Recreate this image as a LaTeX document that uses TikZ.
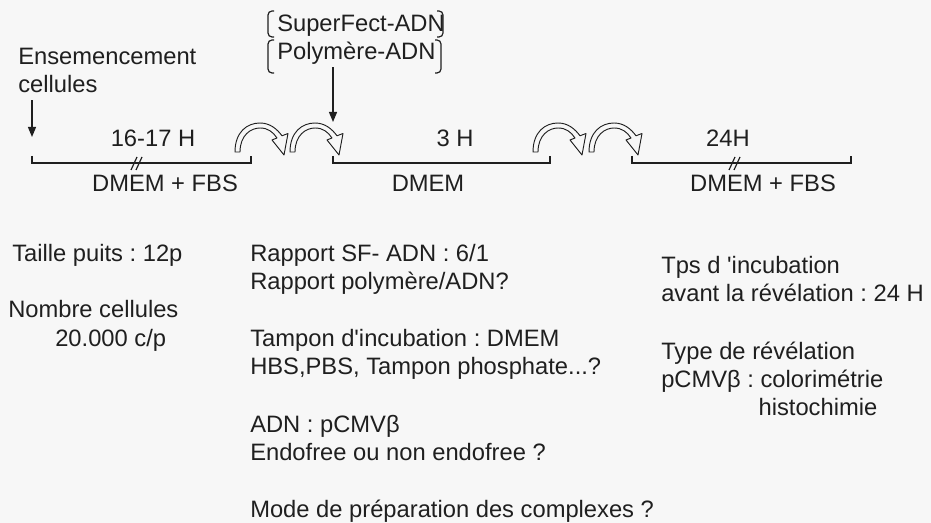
\documentclass[tikz,border=0pt]{standalone}
\usepackage{fontspec}
\setmainfont{Liberation Sans}[Ligatures=TeXOff]
\usetikzlibrary{arrows.meta, positioning, calc}
\definecolor{paper}{gray}{0.97}
\definecolor{ink}{gray}{0.12}
\tikzstyle{txt} = [font=\fontsize{17.8}{21}\selectfont\frenchspacing, inner sep=0pt, align=left, text=ink]
\tikzstyle{timeline} = [line width=0.9pt, draw=ink]
\tikzstyle{arrow} = [line width=0.9pt, draw=ink, -{Triangle[width=6pt,length=7.5pt]}]
\tikzset{
  turnarrow/.pic = {
    \draw [line width=0.7pt, draw=ink, fill=paper, line join=round]
      (0,0) .. controls (0,-20) and (12,-29) .. (25,-29)
      .. controls (35,-29) and (42,-23) .. (47,-16.2)
      -- (53,-18.5) -- (49,3) -- (37,-12) -- (42,-14)
      .. controls (38,-20) and (33,-24) .. (25,-24)
      .. controls (16,-24) and (5,-17) .. (5,0) -- cycle;
  },
  breakmark/.pic = {
    \draw [line width=0.9pt, draw=ink] (-7,7) -- (-1,-6) (-2,7) -- (4,-6);
  }
}

\begin{document}
\begin{tikzpicture}[x=0.75pt, y=-0.75pt]

    \useasboundingbox (0,0) rectangle (931,523);
    \fill [paper] (0,0) rectangle (931,523);

    % time axis
    \coordinate (t1s) at (32,163);
    \coordinate (t1e) at (251,163);
    \coordinate (t2s) at (333,163);
    \coordinate (t2e) at (550,163);
    \coordinate (t3s) at (632,163);
    \coordinate (t3e) at (851,163);

    \draw [timeline] ($(t1s)+(0,-7)$) -- (t1s) -- (t1e) -- ($(t1e)+(0,-7)$);
    \draw [timeline] ($(t2s)+(0,-7)$) -- (t2s) -- (t2e) -- ($(t2e)+(0,-7)$);
    \draw [timeline] ($(t3s)+(0,-7)$) -- (t3s) -- (t3e) -- ($(t3e)+(0,-7)$);
    \pic at (138,163) {breakmark};
    \pic at (736,163) {breakmark};

    \node (h1) [txt, anchor=base] at (153,147) {16-17 H};
    \node (h2) [txt, anchor=base] at (455,147) {3 H};
    \node (h3) [txt, anchor=base] at (728,147) {24H};
    \node (m1) [txt, anchor=base] at (165,192) {DMEM + FBS};
    \node (m2) [txt, anchor=base] at (428,192) {DMEM};
    \node (m3) [txt, anchor=base] at (763,192) {DMEM + FBS};

    % washing steps between the phases
    \pic at (235,152) {turnarrow};
    \pic at (290,152) {turnarrow};
    \pic at (533,152) {turnarrow};
    \pic at (589,152) {turnarrow};

    % inputs
    \node (ens) [txt, anchor=base west] at (18,93) {Ensemencement\\cellules};
    \node (cplx) [txt, anchor=base west] at (277,60) {SuperFect-ADN\\Polymère-ADN};
    \draw [timeline, rounded corners=3pt] (274,11) -- (268,11) -- (268,37) -- (274,37);
    \draw [timeline, rounded corners=3pt] (274,40) -- (268,40) -- (268,73) -- (274,73);
    \draw [timeline, rounded corners=3pt] (437,11) -- (443,11) -- (443,37) -- (437,37);
    \draw [timeline, rounded corners=3pt] (435,40) -- (441,40) -- (441,73) -- (435,73);

    \draw [arrow] (ens.south -| t1s) ++(0,7) -- ($(t1s)+(0,-26)$);
    \draw [arrow] (cplx.south -| t2s) ++(0,2) -- ($(t2s)+(0,-41)$);

    % conditions
    \node (puits) [txt, anchor=base west] at (12,262) {Taille puits : 12p};
    \node (nb) [txt, anchor=base west] at (8,318) {Nombre cellules};
    \node (nbval) [txt, anchor=base west] at (55,347) {20.000 c/p};

    \node (ratio) [txt, anchor=base west] at (250,290) {Rapport SF- ADN : 6/1\\Rapport polymère/ADN?};
    \node (buffer) [txt, anchor=base west] at (250,375) {Tampon d'incubation : DMEM\\HBS,PBS, Tampon phosphate...?};
    \node (dna) [txt, anchor=base west] at (250,460) {ADN : pCMVβ\\Endofree ou non endofree ?};
    \node (prep) [txt, anchor=base west] at (250,517) {Mode de préparation des complexes ?};

    \node (tps) [txt, anchor=base west] at (661,302) {Tps d 'incubation\\avant la révélation : 24 H};
    \node (type) [txt, anchor=base west] at (661,416) {Type de révélation\\pCMVβ : colorimétrie\\\hspace*{73pt}histochimie};

\end{tikzpicture}
\end{document}
